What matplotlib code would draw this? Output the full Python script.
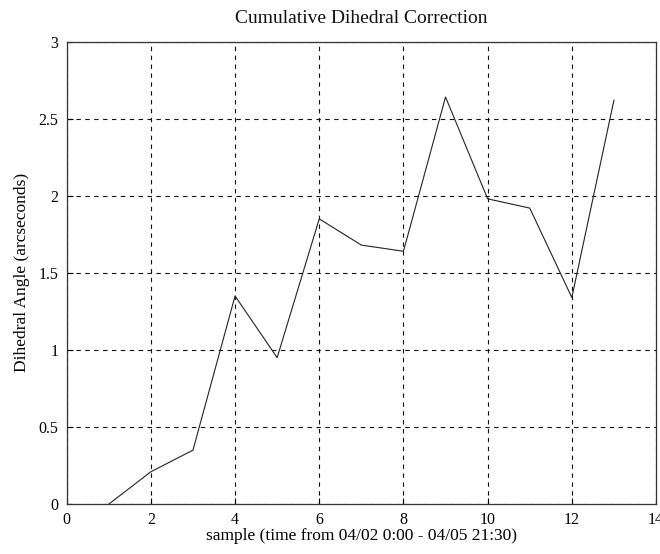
import numpy as np
import matplotlib
matplotlib.use('Agg')
import matplotlib.pyplot as plt

plt.rcParams['font.family'] = ['Liberation Serif', 'DejaVu Serif']

# cumulative dihedral correction per sample
sample = [1, 2, 3, 4, 5, 6, 7, 8, 9, 10, 11, 12, 13]
dihedral = [0.0, 0.21, 0.35, 1.35, 0.95, 1.85, 1.68, 1.64, 2.64, 1.98, 1.92, 1.34, 2.62]

xticks = [0, 2, 4, 6, 8, 10, 12, 14]
yticks = [0, 0.5, 1, 1.5, 2, 2.5, 3]

fig = plt.figure(figsize=(6.6, 5.54), dpi=100)
ax = fig.add_axes([0.101, 0.09, 0.893, 0.835])

ax.plot(sample, dihedral, color='#222222', linewidth=0.8)

ax.set_xlim(0, 14)
ax.set_ylim(0, 3)
ax.set_xticks(xticks)
ax.set_xticklabels([str(t) for t in xticks])
ax.set_yticks(yticks)
ax.set_yticklabels(['0', '0.5', '1', '1.5', '2', '2.5', '3'])
ax.tick_params(direction='in', length=4, width=0.8, labelsize=11.5, pad=6)
ax.grid(True, color='#111111', linestyle=(0, (4, 4)), linewidth=0.8)

for s in ax.spines.values():
    s.set_linewidth(0.9)
    s.set_color('#333333')

ax.set_title('Cumulative Dihedral Correction', fontsize=14, pad=13, color='#111111')
ax.set_xlabel('sample (time from 04/02 0:00 - 04/05 21:30)', fontsize=12.5, labelpad=0)
ax.set_ylabel('Dihedral Angle (arcseconds)', fontsize=12.5, labelpad=6)

fig.savefig('out.png', dpi=100)
